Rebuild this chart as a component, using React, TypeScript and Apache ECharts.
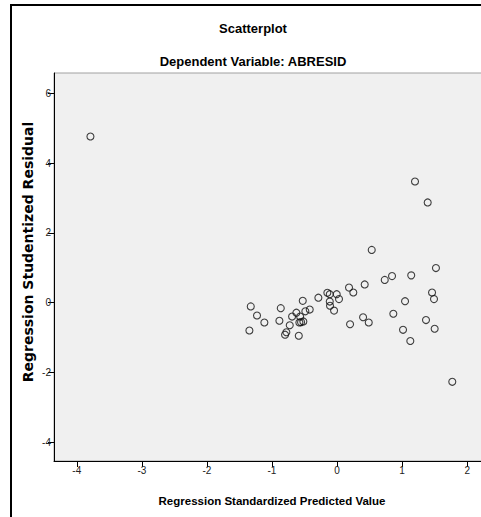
import React, { useEffect, useRef } from "react";
import * as echarts from "echarts";

// Regression Standardized Predicted Value (x) and Studentized Residual (y)
const predictedValues = [
  -3.79, 1.198, 1.393, 0.533, 1.52, 1.14, 0.845, 0.733, 0.425, 0.184,
  0.25, -0.149, -0.112, -0.005, 0.03, -0.287, -0.527, -0.112, -0.108, -0.046,
  -1.326, -0.865, -1.23, 1.46, 1.49, 1.045, 0.865, 0.4, -1.117, -1.347,
  -0.886, -0.727, -0.779, -0.799, -0.588, -0.691, -0.625, -0.568, -0.553, -0.518,
  -0.579, -0.487, -0.42, 0.2, 0.487, 1.367, 1.5, 1.014, 1.126, 1.771,
];
const studentizedResiduals = [
  4.76, 3.47, 2.87, 1.51, 0.99, 0.78, 0.76, 0.65, 0.52, 0.43,
  0.29, 0.28, 0.24, 0.24, 0.1, 0.14, 0.05, 0.03, -0.09, -0.23,
  -0.11, -0.16, -0.37, 0.29, 0.1, 0.04, -0.32, -0.42, -0.57, -0.8,
  -0.52, -0.65, -0.85, -0.92, -0.95, -0.4, -0.29, -0.4, -0.56, -0.54,
  -0.57, -0.25, -0.2, -0.62, -0.57, -0.5, -0.75, -0.78, -1.1, -2.27,
];
const xTickValues = [-4, -3, -2, -1, 0, 1, 2];
const yTickValues = [-4, -2, 0, 2, 4, 6];

const titleText = "Scatterplot";
const subtitleText = "Dependent Variable: ABRESID";
const xAxisName = "Regression Standardized Predicted Value";
const yAxisName = "Regression Studentized Residual";

export default function App() {
  const ref = useRef<HTMLDivElement>(null);
  useEffect(() => {
    document.body.style.margin = "0";
    const chart = echarts.init(ref.current!, undefined, { renderer: "svg" });
    const points = predictedValues.map((x, i) => [x, studentizedResiduals[i]]);
    const tickLabel = {
      fontFamily: "Liberation Sans, Arial, sans-serif",
      fontSize: 10,
      color: "#222",
    };
    chart.setOption({
      animation: false,
      backgroundColor: "#ffffff",
      grid: {
        left: 54,
        top: 73,
        right: 9,
        bottom: 56,
        show: true,
        backgroundColor: "#f0f0f0",
        borderColor: "#a0a0a0",
        borderWidth: 1,
      },
      xAxis: {
        type: "value",
        min: -4.35,
        max: 2.366,
        axisLine: { show: true, onZero: false, lineStyle: { color: "#000", width: 1 } },
        axisTick: {
          show: true,
          length: 6,
          customValues: xTickValues,
          lineStyle: { color: "#000" },
        },
        axisLabel: { ...tickLabel, margin: 4, customValues: xTickValues },
        splitLine: { show: false },
      },
      yAxis: {
        type: "value",
        min: -4.54,
        max: 6.58,
        axisLine: { show: true, onZero: false, lineStyle: { color: "#000", width: 1 } },
        axisTick: {
          show: true,
          length: 6,
          customValues: yTickValues,
          lineStyle: { color: "#000" },
        },
        axisLabel: { ...tickLabel, margin: 3, customValues: yTickValues },
        splitLine: { show: false },
      },
      series: [
        {
          type: "scatter",
          data: points,
          symbol: "circle",
          symbolSize: 7,
          itemStyle: {
            color: "rgba(0,0,0,0)",
            borderColor: "#111",
            borderWidth: 1.1,
          },
        },
      ],
      graphic: [
        {
          type: "rect",
          shape: { x: 11, y: 5, width: 540, height: 540 },
          style: { fill: "none", stroke: "#000", lineWidth: 2 },
          silent: true,
        },
        {
          type: "text",
          x: 253,
          y: 28,
          style: {
            text: titleText,
            fontFamily: "Liberation Sans, Arial, sans-serif",
            fontWeight: "bold",
            fontSize: 13,
            fill: "#000",
            textAlign: "center",
            textVerticalAlign: "middle",
          },
        },
        {
          type: "text",
          x: 253,
          y: 61,
          style: {
            text: subtitleText,
            fontFamily: "Liberation Sans, Arial, sans-serif",
            fontWeight: "bold",
            fontSize: 13,
            fill: "#000",
            textAlign: "center",
            textVerticalAlign: "middle",
          },
        },
        {
          type: "text",
          x: 272,
          y: 501,
          style: {
            text: xAxisName,
            fontFamily: "Liberation Sans, Arial, sans-serif",
            fontWeight: "bold",
            fontSize: 11.5,
            fill: "#000",
            textAlign: "center",
            textVerticalAlign: "middle",
          },
        },
        {
          type: "text",
          x: 28,
          y: 252,
          rotation: Math.PI / 2,
          style: {
            text: yAxisName,
            fontFamily: "DejaVu Sans, sans-serif",
            fontWeight: "bold",
            fontSize: 14,
            fill: "#000",
            textAlign: "center",
            textVerticalAlign: "middle",
          },
        },
      ],
    });
    return () => chart.dispose();
  }, []);
  return (
    <div
      style={{
        position: "absolute",
        left: 0,
        top: 0,
        width: 481,
        height: 517,
        overflow: "hidden",
      }}
    >
      <div ref={ref} style={{ width: 500, height: 517 }} />
    </div>
  );
}
